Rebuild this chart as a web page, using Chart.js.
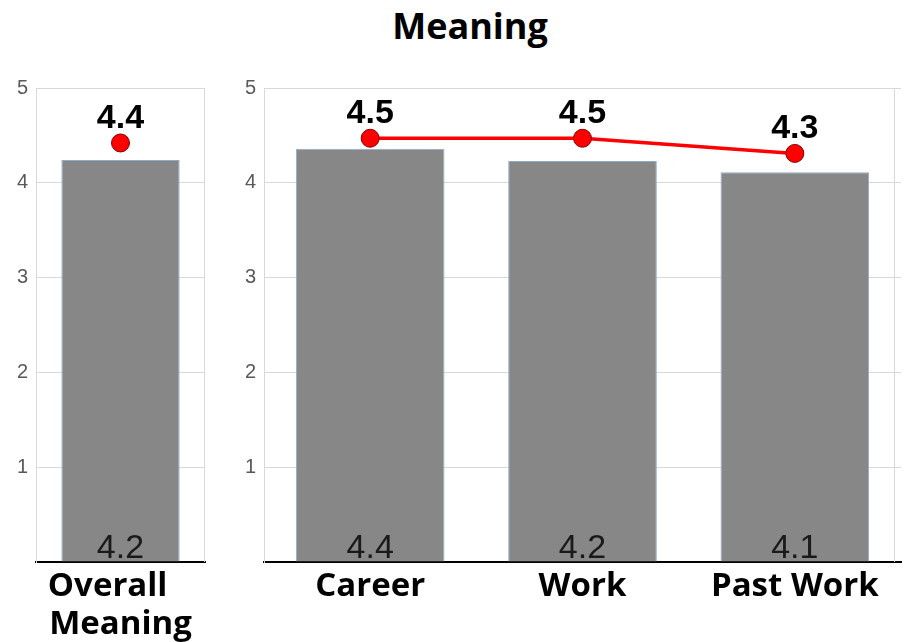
<!DOCTYPE html>
<html>
<head>
<meta charset="utf-8">
<script src="https://cdn.jsdelivr.net/npm/chart.js@4.4.1/dist/chart.umd.min.js"></script>
<style>
    html, body { margin: 0; padding: 0; background: #fff; overflow: hidden; }
    #wrap { position: relative; width: 907px; height: 642px; overflow: hidden; }
    #title {
        position: absolute; left: 320px; width: 300px; top: 0px;
        text-align: center; font: bold 36px "Open Sans", sans-serif; line-height: 52px; color: #000;
    }
    #leftChart { position: absolute; left: 0; top: 0; }
    #rightChart { position: absolute; left: 220px; top: 0; }
</style>
</head>
<body>
<div id="wrap">
    <div id="title">Meaning</div>
    <canvas id="leftChart" width="220" height="642"></canvas>
    <canvas id="rightChart" width="691" height="642"></canvas>
</div>
<script>
// data
const overallLabels = [['Overall   ', 'Meaning']];
const overallBars = [4.24];
const overallDots = [4.42];

const areaLabels = ['Career', 'Work', 'Past Work'];
const areaBars = [4.36, 4.23, 4.11];
const areaDots = [4.47, 4.47, 4.31];

const yTicks = [0, 1, 2, 3, 4, 5];

const GRID = '#d9d9d9';

// frame line on the right side of each panel
const framePlugin = {
    id: 'frame',
    beforeDatasetsDraw(chart, args, opts) {
        const { ctx, chartArea } = chart;
        const x = chartArea.right - (opts.inset || 0) - 0.5;
        ctx.save();
        ctx.strokeStyle = GRID;
        ctx.lineWidth = 1;
        ctx.beginPath();
        ctx.moveTo(x, chartArea.top);
        ctx.lineTo(x, chartArea.bottom);
        ctx.stroke();
        ctx.restore();
    }
};

// value labels: inside bar bottom, and above dots
const valuePlugin = {
    id: 'values',
    afterDatasetsDraw(chart) {
        const { ctx } = chart;
        const yScale = chart.scales.y;
        ctx.save();
        ctx.textAlign = 'center';
        ctx.textBaseline = 'alphabetic';
        chart.getDatasetMeta(0).data.forEach((el, i) => {
            ctx.font = '34px "Liberation Sans", Arial, sans-serif';
            ctx.fillStyle = '#1a1a1a';
            ctx.fillText(chart.data.datasets[0].data[i].toFixed(1), el.x, yScale.bottom - 4);
        });
        chart.getDatasetMeta(1).data.forEach((el, i) => {
            ctx.font = 'bold 34px "Liberation Sans", Arial, sans-serif';
            ctx.fillStyle = '#000';
            ctx.fillText(chart.data.datasets[1].data[i].toFixed(1), el.x, el.y - 15);
        });
        ctx.restore();
    }
};

function makePanel(canvasId, labels, bars, dots, yWidth, padRight, inset) {
    return new Chart(document.getElementById(canvasId), {
        type: 'bar',
        data: {
            labels: labels,
            datasets: [
                {
                    label: 'bars',
                    data: bars,
                    backgroundColor: '#878787',
                    borderColor: '#8eaacb',
                    borderWidth: 1,
                    barPercentage: 0.7,
                    categoryPercentage: 1.0,
                    order: 2
                },
                {
                    type: 'line',
                    label: 'dots',
                    data: dots,
                    borderColor: '#ff0000',
                    backgroundColor: '#ff0000',
                    borderWidth: 3.5,
                    pointRadius: 9,
                    pointBorderColor: '#7f0000',
                    pointBorderWidth: 1,
                    pointBackgroundColor: '#ff0000',
                    tension: 0,
                    order: 1
                }
            ]
        },
        options: {
            responsive: false,
            animation: false,
            devicePixelRatio: 1,
            layout: { padding: { top: 88, right: padRight, left: 0, bottom: 0 } },
            scales: {
                x: {
                    grid: { display: false, drawTicks: false },
                    border: { display: true, color: '#000', width: 2 },
                    ticks: {
                        color: '#000',
                        padding: 6,
                        maxRotation: 0,
                        autoSkip: false,
                        font: { family: '"Open Sans", sans-serif', size: 33, weight: 'bold', lineHeight: 1.15 }
                    },
                    // keep label widths from shrinking the plot area
                    afterFit: s => { s.height = 80; s.paddingLeft = 0; s.paddingRight = 0; }
                },
                y: {
                    min: yTicks[0],
                    max: yTicks[yTicks.length - 1],
                    afterBuildTicks: s => { s.ticks = yTicks.map(v => ({ value: v })); },
                    grid: { color: GRID, lineWidth: 1, drawTicks: false },
                    border: { display: true, color: GRID, width: 1 },
                    ticks: {
                        color: '#595959',
                        padding: 8,
                        font: { family: '"Liberation Sans", Arial, sans-serif', size: 20 },
                        callback: v => (v === 0 ? '' : v)
                    },
                    afterFit: s => { s.width = yWidth; s.paddingTop = 0; s.paddingBottom = 0; }
                }
            },
            plugins: {
                legend: { display: false },
                tooltip: { enabled: false },
                frame: { inset: inset }
            }
        },
        plugins: [framePlugin, valuePlugin]
    });
}

makePanel('leftChart', overallLabels, overallBars, overallDots, 36, 15, 0);
makePanel('rightChart', areaLabels, areaBars, areaDots, 44, 0, 6);
</script>
</body>
</html>
